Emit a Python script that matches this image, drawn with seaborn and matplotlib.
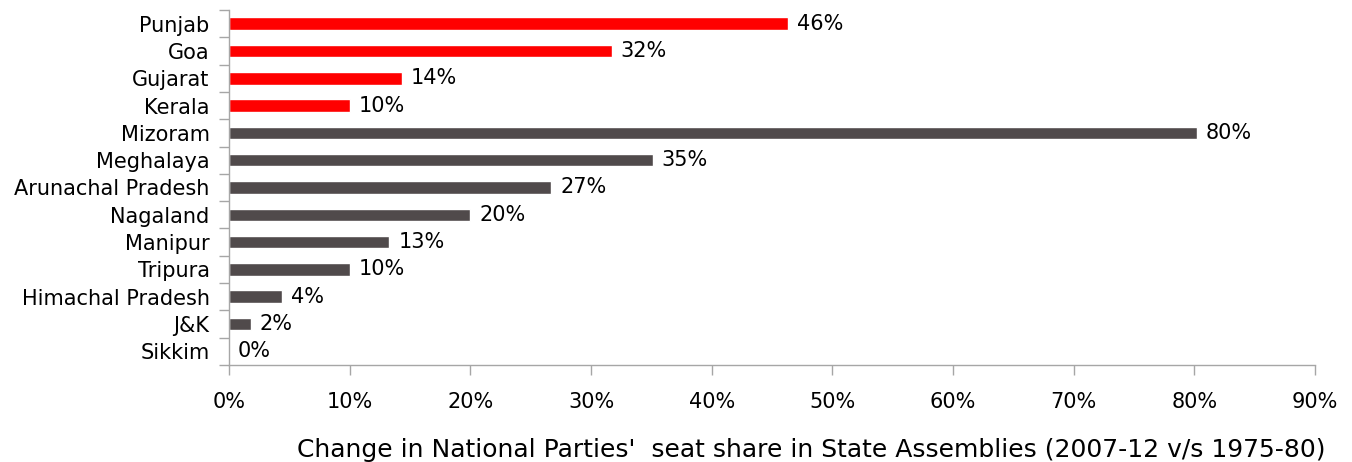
import matplotlib
matplotlib.use("Agg")
import matplotlib.pyplot as plt
import seaborn as sns
import pandas as pd
from matplotlib.ticker import FixedLocator, FuncFormatter

states = ["Punjab", "Goa", "Gujarat", "Kerala", "Mizoram", "Meghalaya",
          "Arunachal Pradesh", "Nagaland", "Manipur", "Tripura",
          "Himachal Pradesh", "J&K", "Sikkim"]
change_pct = [46.3, 31.7, 14.3, 10.0, 80.2, 35.1, 26.7, 20.0, 13.3, 10.0, 4.4, 1.8, 0.0]
group = ["a", "a", "a", "a", "b", "b", "b", "b", "b", "b", "b", "b", "b"]
x_ticks = [0, 10, 20, 30, 40, 50, 60, 70, 80, 90]
x_title = "Change in National Parties'  seat share in State Assemblies (2007-12 v/s 1975-80)"

df = pd.DataFrame({"state": states, "change": change_pct, "group": group})

sns.set_theme(style="white")
plt.rcParams["font.family"] = ["DejaVu Sans"]

fs = 15
fig = plt.figure(figsize=(13.52, 4.62), dpi=100)
ax = fig.add_axes([229 / 1352, 1 - 365 / 462, (1315 - 229) / 1352, (365 - 10) / 462])

sns.barplot(data=df, y="state", x="change", hue="group",
            palette={"a": "#FF0000", "b": "#504A4B"}, dodge=False,
            width=0.46, legend=False, ax=ax, saturation=1)

ax.set_xlim(0, 90)
ax.set_ylim(len(states) - 0.5, -0.5)

axis_col = "#A6A6A6"
for side in ["top", "right"]:
    ax.spines[side].set_visible(False)
for side in ["left", "bottom"]:
    ax.spines[side].set_color(axis_col)
    ax.spines[side].set_linewidth(1.0)

ax.xaxis.set_major_locator(FixedLocator(x_ticks))
ax.xaxis.set_major_formatter(FuncFormatter(lambda v, p: f"{v:.0f}%"))
ax.tick_params(axis="x", which="major", direction="out", length=7, width=1,
               color=axis_col, bottom=True, labelsize=fs, pad=12.5, labelcolor="black")

# category ticks sit between bars
ax.yaxis.set_minor_locator(FixedLocator([i - 0.5 for i in range(len(states) + 1)]))
ax.tick_params(axis="y", which="major", length=0, labelsize=fs, pad=14, labelcolor="black")
ax.tick_params(axis="y", which="minor", direction="out", length=7, width=1,
               color=axis_col, left=True)

ax.set_ylabel("")
ax.set_xlabel(x_title, fontsize=18, labelpad=18.5, color="black")
ax.xaxis.label.set_x(0.536)

for i, v in enumerate(change_pct):
    ax.text(v + 0.75, i, f"{v:.0f}%", va="center", ha="left", fontsize=fs, color="black")

fig.savefig("out.png", dpi=100)
